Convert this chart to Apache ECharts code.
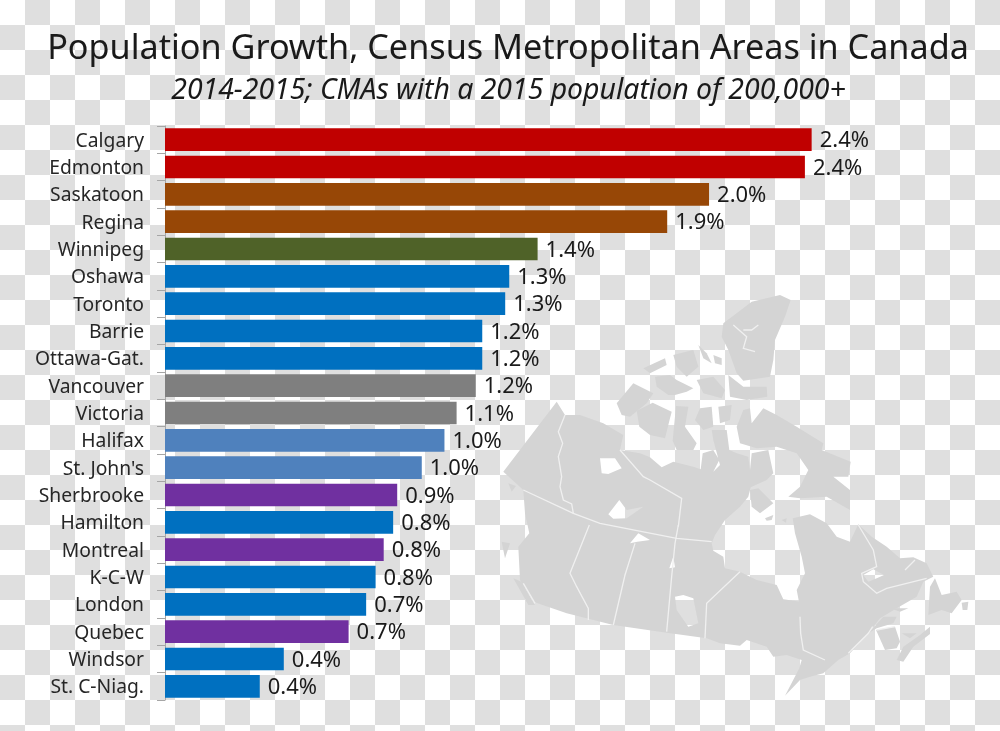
<!DOCTYPE html>
<html><head><meta charset="utf-8">
<style>
html,body{margin:0;padding:0;width:1000px;height:731px;overflow:hidden;}
body{background-color:#fff;background-image:repeating-conic-gradient(#dfdfdf 0 25%,#fff 0 50%);background-size:50px 50px;}
#c{width:1000px;height:731px;}
</style>
<script src="https://cdn.jsdelivr.net/npm/echarts@6/dist/echarts.min.js"></script>
</head><body><div id="c"></div>
<script>
const titleText='Population Growth, Census Metropolitan Areas in Canada';
const subtitleText='2014-2015; CMAs with a 2015 population of 200,000+';
const categories=['Calgary','Edmonton','Saskatoon','Regina','Winnipeg','Oshawa','Toronto','Barrie','Ottawa-Gat.','Vancouver','Victoria','Halifax',"St. John's",'Sherbrooke','Hamilton','Montreal','K-C-W','London','Quebec','Windsor','St. C-Niag.'];
const growth=[2.395,2.37,2.015,1.86,1.38,1.275,1.26,1.175,1.175,1.151,1.08,1.035,0.951,0.86,0.845,0.81,0.78,0.745,0.68,0.44,0.351];
const regionOf=['AB','AB','SK','SK','MB','ON','ON','ON','ON','BC','BC','NS','NL','QC','ON','QC','ON','ON','QC','ON','ON'];
const regionColors={AB:'#C00000',SK:'#974706',MB:'#4F6228',ON:'#0070C0',BC:'#7F7F7F',NS:'#4F81BD',NL:'#4F81BD',QC:'#7030A0'};

// Decorative backdrop map outlines, traced in a 3x local frame
const mainland=[[70,575],[230,365],[255,405],[300,405],[370,430],[430,465],[420,510],[480,520],[510,532],[545,562],[580,545],[640,560],[662,568],[668,520],[700,510],[718,540],[700,575],[720,555],[700,480],[695,450],[740,450],[748,510],[770,520],[805,530],[810,570],[815,520],[865,510],[880,580],[860,600],[812,622],[805,650],[780,680],[735,720],[705,765],[695,790],[700,812],[730,830],[735,865],[780,875],[830,900],[890,915],[910,958],[962,965],[964,1002],[950,930],[975,880],[965,830],[945,760],[938,715],[990,703],[1040,730],[1070,770],[1110,785],[1135,733],[1175,770],[1220,800],[1260,835],[1300,832],[1340,850],[1360,890],[1330,905],[1310,950],[1250,985],[1200,1015],[1165,1060],[1110,1120],[1075,1140],[1030,1180],[990,1190],[960,1200],[915,1247],[958,1165],[965,1140],[920,1125],[880,1130],[860,1100],[800,1080],[780,1097],[720,1090],[680,1075],[560,1058],[400,1035],[260,1000],[160,965],[120,900],[115,800],[148,760],[135,700],[130,630]];
const lakes=[[[360,535],[405,535],[425,565],[385,582],[365,580]],[[385,703],[418,660],[440,690],[490,680],[440,715],[400,716]],[[450,790],[475,760],[510,780],[472,785]],[[568,865],[580,830],[585,862]],[[585,950],[610,945],[640,955],[655,1030],[625,1040],[590,990]],[[1150,885],[1180,868],[1212,885],[1190,895],[1165,905]]];
const islands=[
[[815,65],[900,45],[932,60],[915,110],[885,180],[880,240],[870,290],[790,302],[770,280],[745,210],[725,170],[730,130],[770,100]],
[[655,195],[680,220],[695,250],[670,235]],[[700,225],[725,235],[725,255],[705,250]],
[[490,265],[555,235],[560,255],[510,280]],[[580,225],[640,210],[655,260],[620,290],[590,260]],
[[525,290],[570,285],[590,300],[640,325],[620,335],[585,345],[565,345],[530,320]],
[[650,300],[700,290],[735,330],[725,355],[670,340]],[[745,285],[790,320],[860,320],[862,350],[800,360],[750,350]],
[[410,370],[460,310],[520,340],[500,370],[450,410],[425,405]],
[[470,392],[518,368],[575,395],[555,475],[510,465],[478,440]],
[[588,378],[625,380],[615,440],[650,490],[640,510],[590,510],[578,482]],
[[660,385],[695,380],[700,440],[670,450],[645,420]],[[715,380],[755,375],[750,420],[720,430]],
[[770,440],[790,390],[810,385],[815,430],[850,385],[890,405],[950,440],[1030,490],[1025,510],[1112,545],[1105,590],[1060,590],[1110,630],[1110,690],[1040,650],[960,655],[925,650],[960,620],[985,570],[950,520],[890,500],[830,505],[780,490]],
[[810,630],[835,625],[880,670],[840,700],[815,680]],[[855,715],[880,705],[875,720],[860,722]],[[905,720],[920,715],[918,728]],
[[100,895],[125,905],[165,975],[145,975]],[[65,785],[90,790],[75,835]],[[85,610],[108,618],[95,635]],
[[1345,1005],[1350,920],[1365,895],[1385,945],[1430,935],[1445,960],[1415,1000],[1385,990]],[[1445,968],[1465,965],[1462,990],[1448,990]],
[[1250,1140],[1270,1100],[1320,1065],[1350,1040],[1350,1062],[1300,1100],[1270,1145]],
[[1188,1050],[1245,1040],[1260,1085],[1250,1105],[1215,1110]],[[1230,985],[1285,985],[1260,995]],[[1265,1060],[1310,1060],[1290,1075]],
[[1165,1060],[1210,1010],[1250,1010],[1240,1030],[1190,1045]]
];
const borders=[
[[130,630],[280,700],[360,730],[590,775],[695,785]],
[[255,405],[235,455],[248,490],[235,530],[245,590],[240,620],[250,660],[275,672],[280,700]],
[[328,735],[270,880],[290,920],[325,985],[325,1020]],
[[465,790],[435,885],[400,1035]],
[[595,735],[585,790],[575,890],[560,1055]],
[[420,510],[490,590],[510,600],[605,655],[595,740]],
[[780,875],[680,970],[675,1075]],
[[960,1010],[962,1060],[970,1110],[1035,1140]],
[[1135,735],[1180,810],[1190,860],[1145,880],[1150,905],[1190,940],[1220,925],[1340,895]],
[[1275,870],[1305,840]],
[[130,910],[165,970]],
[[1105,1120],[1165,1060],[1178,1040]],
[[1190,1050],[1245,1040]],
[[760,135],[800,170],[790,205],[825,215]],[[790,150],[815,150],[835,135]]
];
const toPage=p=>[480+p[0]/3,280+p[1]/3];
const area=r=>r.reduce((s,p,i)=>{const q=r[(i+1)%r.length];return s+p[0]*q[1]-q[0]*p[1];},0);
const ring=(r,sign)=>{const o=Math.sign(area(r))===sign?r:[...r].reverse();return 'M'+o.map(p=>toPage(p).map(v=>v.toFixed(1)).join(' ')).join('L')+'Z';};
echarts.graphic.registerShape('canadaLand',echarts.graphic.extendPath(ring(mainland,1)+lakes.map(l=>ring(l,-1)).join('')));
const mapStyle={fill:'#D4D4D4'};
const mapElements=[
 {type:'canadaLand',silent:true,z:-1,style:mapStyle},
 ...islands.map(r=>({type:'polygon',silent:true,z:-1,shape:{points:r.map(toPage)},style:mapStyle})),
 ...borders.map(r=>({type:'polyline',silent:true,z:-1,shape:{points:r.map(toPage)},style:{stroke:'#F0F0F0',lineWidth:1.3,fill:null}}))
];
const chart=echarts.init(document.getElementById('c'),null,{renderer:'canvas'});
chart.setOption({
 animation:false,
 title:[
  {text:titleText,left:503,top:27,textAlign:'center',textStyle:{fontFamily:'Noto Sans',fontWeight:'normal',fontSize:34.2,color:'#1a1a1a'}},
  {text:subtitleText,left:503.5,top:72,textAlign:'center',textStyle:{fontFamily:'Noto Sans',fontStyle:'italic',fontWeight:'normal',fontSize:28.4,color:'#1a1a1a'}}
 ],
 graphic:mapElements,
 grid:{left:165,top:126,width:810,height:574,containLabel:false},
 xAxis:{type:'value',min:0,max:3,show:false},
 yAxis:{type:'category',inverse:true,data:categories,
  axisLine:{show:true,lineStyle:{color:'#A6A6A6',width:1}},
  axisTick:{show:true,length:8,lineStyle:{color:'#A6A6A6',width:1}},
  axisLabel:{color:'#262626',margin:21,formatter:v=>'{a|'+v+'}',
   rich:{a:{fontFamily:'Noto Sans',fontSize:19.3,color:'#262626',padding:[3,0,0,0]}}}},
 series:[{type:'bar',barWidth:'83%',
  data:growth.map((v,i)=>({value:v,itemStyle:{color:regionColors[regionOf[i]]}})),
  label:{show:true,position:'right',distance:8,offset:[0,1.5],fontFamily:'Noto Sans',fontSize:22,color:'#1a1a1a',formatter:p=>p.value.toFixed(1)+'%'}}]
});
</script></body></html>
